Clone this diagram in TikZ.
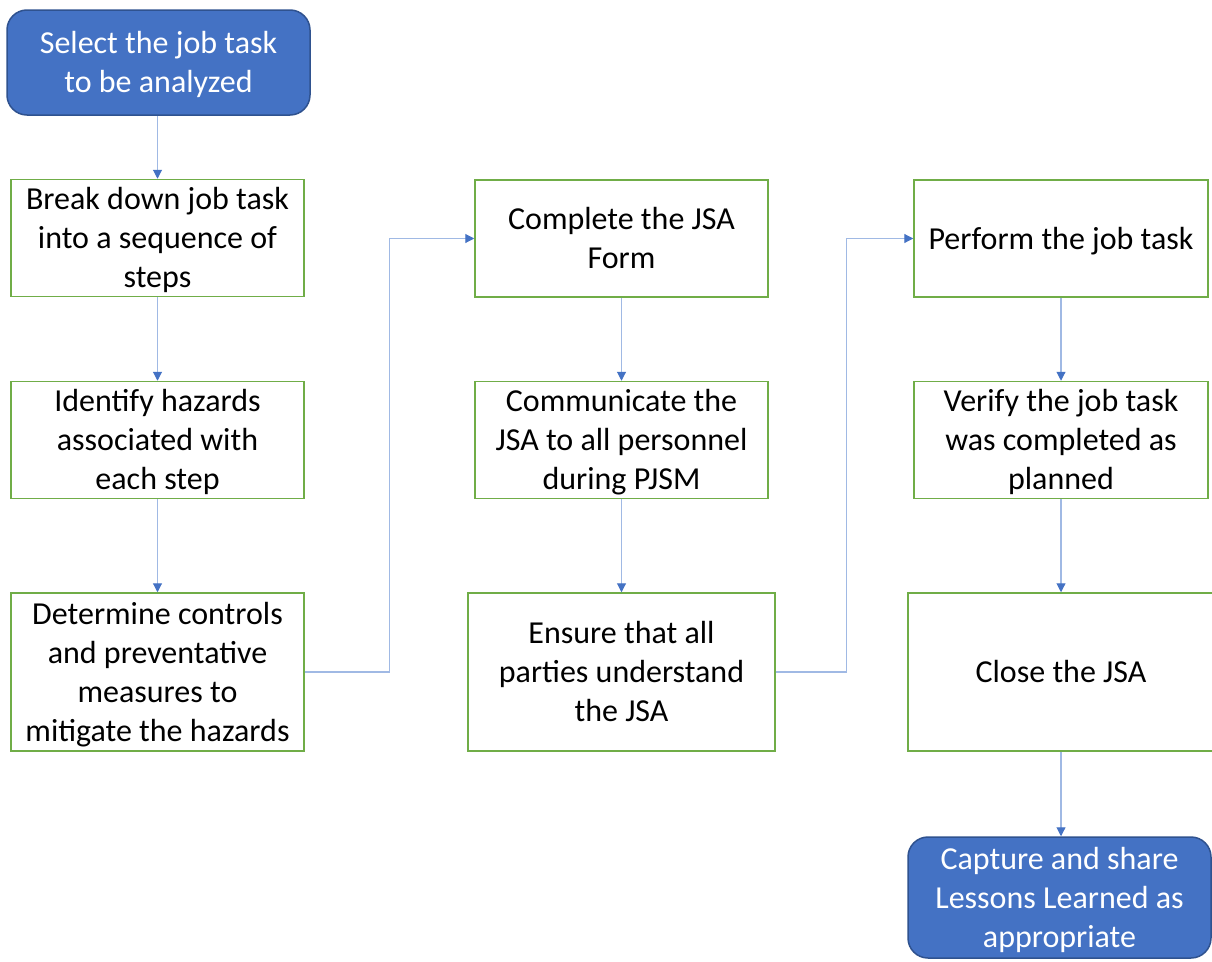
\documentclass[tikz,border=0pt]{standalone}
\usepackage{fontspec}
\setmainfont{Carlito}
\usetikzlibrary{arrows.meta,positioning,calc}
\definecolor{boxgreen}{HTML}{70AD47}
\definecolor{fillblue}{HTML}{4472C4}
\definecolor{edgeblue}{HTML}{2F528F}
\definecolor{lineblue}{RGB}{160,185,228}
\definecolor{tipblue}{HTML}{4472C4}
\newcommand{\boxtext}[1]{\raisebox{-3pt}[\height][\depth]{\begin{tabular}{@{}c@{}}#1\end{tabular}}}
\begin{document}
\begin{tikzpicture}[x=1pt,y=-1pt,
  every node/.style={font=\fontsize{32}{39}\selectfont, align=center, inner sep=0pt},
  stepbox/.style={draw=boxgreen, line width=1.5pt, fill=white, rectangle},
  termbox/.style={draw=edgeblue, line width=1.5pt, fill=fillblue, rounded corners=20pt, text=white},
  conn/.style={draw=lineblue, line width=1.1pt, -{Triangle[length=9pt,width=9pt,color=tipblue,fill=tipblue]}}
]
\useasboundingbox (0,0) rectangle (1212,961);
\fill[white] (0,0) rectangle (1212,961);

% left column
\node[termbox, minimum width=303pt, minimum height=105pt] (S) at (158.5,62.5) {\boxtext{Select the job task\\to be analyzed}};
\node[stepbox, minimum width=293pt, minimum height=116pt] (A) at (157.5,238) {\boxtext{Break down job task\\into a sequence of\\steps}};
\node[stepbox, minimum width=293pt, minimum height=116pt] (B) at (157.5,440) {\boxtext{Identify hazards\\associated with\\each step}};
\node[stepbox, minimum width=293pt, minimum height=158pt] (C) at (157.5,672) {\boxtext{Determine controls\\and preventative\\measures to\\mitigate the hazards}};

% middle column
\node[stepbox, minimum width=293pt, minimum height=117pt] (D) at (621.5,238.5) {\boxtext{Complete the JSA\\Form}};
\node[stepbox, minimum width=293pt, minimum height=116pt] (E) at (621.5,440) {\boxtext{Communicate the\\JSA to all personnel\\during PJSM}};
\node[stepbox, minimum width=307pt, minimum height=158pt] (F) at (621.5,672) {\boxtext{Ensure that all\\parties understand\\the JSA}};

% right column
\node[stepbox, minimum width=294pt, minimum height=117pt] (G) at (1061,238.5) {\boxtext{Perform the job task}};
\node[stepbox, minimum width=294pt, minimum height=116pt] (H) at (1061,440) {\boxtext{Verify the job task\\was completed as\\planned}};
\node[stepbox, minimum width=306pt, minimum height=158pt] (I) at (1061,672) {\boxtext{Close the JSA}};
\node[termbox, minimum width=303pt, minimum height=121pt] (T) at (1059.5,897.5) {\boxtext{Capture and share\\Lessons Learned as\\appropriate}};

% connectors
\draw[conn] (S.south -| A.north) -- (A.north);
\draw[conn] (A) -- (B);
\draw[conn] (B) -- (C);
\draw[conn] (C.east) -- ++(85,0) |- (D.west);
\draw[conn] (D) -- (E);
\draw[conn] (E) -- (F);
\draw[conn] (F.east) -- ++(71,0) |- (G.west);
\draw[conn] (G) -- (H);
\draw[conn] (H) -- (I);
\draw[conn] (I.south) -- (I.south |- T.north);
\end{tikzpicture}
\end{document}
